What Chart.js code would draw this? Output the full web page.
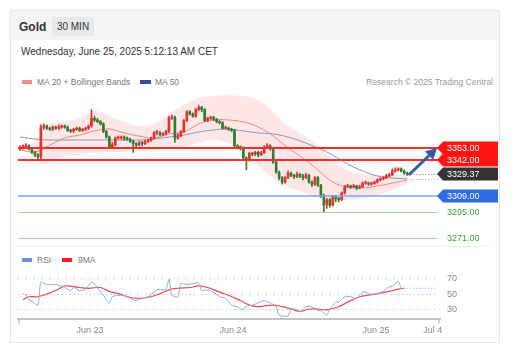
<!DOCTYPE html>
<html><head><meta charset="utf-8">
<script src="https://cdn.jsdelivr.net/npm/chart.js@4.4.1/dist/chart.umd.min.js"></script>
<style>
html,body{margin:0;padding:0;background:#fff;width:514px;height:355px;overflow:hidden;font-family:"Liberation Sans",Arial,sans-serif;}
.a{position:absolute;white-space:nowrap;}
#card{left:10px;top:10px;width:488px;height:331px;border:1px solid #e6e6e6;background:#fff;}
#hdr{left:11px;top:11px;width:488px;height:29px;background:#f4f5f5;}
#title{left:19px;top:20px;font-size:12px;font-weight:bold;line-height:14px;color:#333;}
#badge{left:52px;top:17px;width:42px;height:19px;line-height:19px;text-align:center;font-size:10px;color:#333;background:#e9eaea;}
#date{left:21px;top:46px;font-size:10px;line-height:12px;color:#333;}
.lg{font-size:8.5px;line-height:10px;color:#777;}
.sw{height:4px;width:10px;}
#sep{left:18px;top:246px;width:472px;height:0;border-top:1px dotted #dcdcdc;}
canvas{position:absolute;}
</style></head>
<body>
<div class="a" id="card"></div>
<div class="a" id="hdr"></div>
<div class="a" id="title">Gold</div>
<div class="a" id="badge">30 MIN</div>
<div class="a" id="date">Wednesday, June 25, 2025 5:12:13 AM CET</div>
<div class="a sw" style="left:22px;top:80px;background:#f88a8a;"></div>
<div class="a lg" style="left:37px;top:77px;">MA 20 + Bollinger Bands</div>
<div class="a sw" style="left:140px;top:80px;width:11px;background:#2b5597;"></div>
<div class="a lg" style="left:155px;top:77px;">MA 50</div>
<div class="a lg" style="right:21px;top:77px;color:#999;">Research © 2025 Trading Central</div>
<div class="a" id="sep"></div>
<div class="a sw" style="left:22px;top:258px;background:#6b8fe8;"></div>
<div class="a lg" style="left:37px;top:255px;">RSI</div>
<div class="a sw" style="left:62px;top:258px;background:#ff1a1a;"></div>
<div class="a lg" style="left:78px;top:255px;">9MA</div>
<canvas id="main" width="500" height="154" style="left:10px;top:92px;width:500px;height:154px;"></canvas>
<canvas id="rsi" width="500" height="74" style="left:10px;top:266px;width:500px;height:74px;"></canvas>
<script>
// ---------- DATA ----------
const opens = [3352,3354,3354,3355,3352,3349,3347,3345,3372,3373,3371,3370,3372,3371,3372,3373,3372,3369,3368.5,3370,3371,3369,3370,3371,3373,3380,3378.5,3377,3375,3368,3363,3354,3356,3362,3362,3363,3362,3361,3359,3357,3356,3357.5,3357,3359,3360,3362,3367,3367,3365,3366,3368,3380,3381,3362,3364,3368,3378,3386,3384,3382,3388,3390,3388,3378,3380,3381,3379,3377,3376,3371,3371,3370,3369,3355,3354,3353,3344,3342,3348,3347.5,3349,3347,3348.5,3354,3355,3352,3340,3331,3326,3322,3326,3330,3328,3327,3329,3327.5,3326,3328,3322,3320,3326,3319,3310,3301,3306,3301,3309,3307,3306,3312,3317.5,3318.5,3317.5,3318.5,3316.5,3317.5,3321,3321,3320,3320.5,3322,3324,3325,3326,3327.5,3328.5,3332,3333,3334,3332,3330];
const closes = [3354,3354,3355,3352,3349,3347,3345,3372,3373,3371,3370,3372,3371,3372,3373,3372,3369,3368.5,3370,3371,3369,3370,3371,3373,3380,3378.5,3377,3375,3368,3363,3354,3356,3362,3362,3363,3362,3361,3359,3357,3356,3357.5,3357,3359,3360,3362,3367,3367,3365,3366,3368,3380,3381,3362,3364,3368,3378,3386,3384,3382,3388,3390,3388,3378,3380,3381,3379,3377,3376,3371,3371,3370,3369,3355,3354,3353,3344,3342,3348,3347.5,3349,3347,3348.5,3354,3355,3352,3340,3331,3326,3322,3326,3330,3328,3327,3329,3327.5,3326,3328,3322,3320,3326,3319,3310,3301,3306,3301,3309,3307,3306,3312,3317.5,3318.5,3317.5,3318.5,3316.5,3317.5,3321,3321,3320,3320.5,3322,3324,3325,3326,3327.5,3328.5,3332,3333,3334,3332,3330,3329.37];
const highs = [3355,3356,3357,3356,3353,3350,3348,3374,3375,3374,3372,3373,3373,3374,3374,3374,3373,3370,3371,3372,3372,3371,3372,3374,3388,3382,3380,3378,3376,3369,3364,3358,3363,3364,3364,3364,3363,3362,3360,3358,3359,3359,3360,3361,3363,3368,3369,3368,3367,3369,3382,3383,3382,3366,3369,3379,3387,3387,3385,3389,3392,3391,3389,3381,3382,3382,3380,3378,3377,3373,3372,3371,3370,3356,3355,3354,3345,3349,3349,3350,3350,3350,3355,3357,3356,3353,3341,3332,3327,3327,3332,3331,3329,3331,3330,3329,3330,3329,3323,3327,3327,3320,3311,3307,3307,3310,3310,3308,3313,3319,3320,3319,3320,3319,3319,3322,3323,3322,3322,3323,3325,3326,3327,3329,3330,3334,3335,3335,3335,3333,3331];
const lows = [3351,3352,3353,3351,3348,3345,3343,3343,3370,3370,3369,3369,3370,3370,3371,3371,3368,3367,3367,3369,3368,3368,3369,3370,3372,3377,3376,3374,3367,3362,3353,3353,3355,3361,3361,3360,3360,3358,3349,3354,3355,3355,3356,3358,3359,3361,3365,3364,3364,3365,3367,3379,3358,3361,3363,3367,3377,3383,3381,3381,3387,3386,3377,3377,3379,3378,3376,3375,3370,3370,3369,3368,3354,3352,3351,3343,3333,3341,3346,3346,3345,3346,3348,3353,3351,3339,3330,3324,3320,3321,3325,3327,3325,3326,3326,3324,3325,3321,3318,3319,3318,3308,3294.5,3298,3299,3300,3304,3304,3305,3311,3317,3316,3317,3315,3316,3317,3320,3319,3319,3320,3321,3323,3324,3325,3327,3328,3331,3332,3331,3329,3328];

const bandX   = [4,7,10,15,20,25,30,35,40,45,50,55,60,65,70,75,80,85,90,95,100,105,110,115,120,125,130];
const bbUpper = [3356,3366,3374,3377.6,3380.3,3386.7,3382.1,3376.7,3373,3374.9,3384,3392.2,3398.5,3400.4,3401.3,3400.4,3396.7,3385.8,3373,3364.8,3355.7,3342.1,3333,3329.3,3328.4,3328.4,3328.4];
const bbLower = [3346,3340,3339.3,3345.7,3346.6,3348.4,3349.4,3349.4,3350.3,3351.2,3352.1,3353.9,3357.5,3360.3,3357.5,3351.2,3337.5,3325.7,3317.5,3313,3307.4,3305.6,3305.6,3307.4,3310.2,3314.7,3320.2];

const maX  = [0,5,10,15,20,25,30,35,40,45,50,55,60,65,70,75,80,85,90,95,100,105,110,115,120,125,130];
const ma20 = [3351.2,3349.4,3355.7,3362.1,3364.8,3368.5,3370.3,3366.7,3363.9,3362.1,3365.8,3367.6,3374.9,3378.5,3378.5,3376.7,3372.1,3363.9,3353,3343.9,3333,3322,3317.5,3316.6,3318.4,3321.1,3323.9];
const ma50 = [3363,3361.2,3360.3,3360.3,3360.3,3360.3,3360.3,3360.3,3360.3,3361.2,3363,3364.8,3367.6,3369.4,3370.3,3368.5,3366.7,3365.8,3363,3358.5,3353,3346.6,3338.4,3332.1,3327.5,3325.7,3324.8];

const levels = [3353, 3342, 3329.37, 3309, 3295, 3271];

const arrowFrom = {x:130.5, y:3328.4};
const arrowTo   = {x:140,   y:3353};

const rsiX   = [1,2,3,4,6,7,9,11,13,15,17,18,20,22,24,25,27,28,30,31,34,36,38,39,41,43,45,46,49,50,51,53,54,56,58,60,61,63,65,67,69,71,73,75,76,78,80,82,84,86,87,90,91,93,94,96,98,100,101,103,104,106,107,109,111,113,115,116,118,120,122,124,125,127,128,129];
const rsiVals= [50,48,42,40,35,65,62,62,61,58,54,58,54,56,65,63,52,48,38,46,48,46,42,41,44,46,52,55,56,69,48,46,63,62,63,64,54,55,52,46,44,35,33,29,34,35,38,41,38,33,22,21,30,29,26,33,33,28,28,22,30,39,39,46,46,44,52,52,49,50,53,59,59,66,57,57];
const maRsiX   = [1,3,6,10,13,15,20,23,27,30,33,37,40,44,47,50,53,57,60,63,67,70,74,77,80,82,85,88,91,94,97,100,103,107,110,114,117,120,124,127,129];
const maRsiVals= [42,46,46,51,56,60,58,57,58,53,50,45,44,46,50,55,57,58,60,58,52,48,41,35,33,34,35,33,30,27,30,30,29,33,39,46,48,50,53,56,57];
const rsiTicks = [70, 50, 30];

const xTickPos    = [23.5, 71.5, 119.5, 138.6];
const xTickLabels = ['Jun 23', 'Jun 24', 'Jun 25', 'Jul 4'];

// ---------- STYLE ----------
const FONT = '"Liberation Sans", Arial, sans-serif';
const UP = '#e8302c', DOWN = '#2f7d32';
const levelLine  = ['#ff2a2a','#ff2a2a',null,'#7aa2f2','#9fd49f','#9fd49f'];
const levelLW    = [2,2,0,1.5,1,1];
const levelBox   = ['#ff1414','#ff1414','#333333','#2d6ae3',null,null];
const levelText  = ['#ffffff','#ffffff','#ffffff','#ffffff','#3f9f3f','#3f9f3f'];
const candleColor = ctx => closes[ctx.dataIndex] >= opens[ctx.dataIndex] ? UP : DOWN;
const XMIN = -0.67, XMAX = 141;

const levelPlugin = {
  id:'levels',
  afterDatasetsDraw(chart){
    const y = chart.scales.y, x = chart.scales.x, ctx = chart.ctx, a = chart.chartArea;
    ctx.save();
    levels.forEach((v,i)=>{
      if(!levelLine[i]) return;
      let py = Math.round(y.getPixelForValue(v));
      if(levelLW[i] === 1) py += 0.5;
      ctx.strokeStyle = levelLine[i]; ctx.lineWidth = levelLW[i];
      ctx.beginPath(); ctx.moveTo(a.left, py); ctx.lineTo(a.right-2, py); ctx.stroke();
    });
    const lastX = x.getPixelForValue(closes.length - 1) + 3;
    [[closes[closes.length-1], '#777'], [ma50[ma50.length-1], '#aaa']].forEach(([v,c])=>{
      const py = Math.round(y.getPixelForValue(v)) + 0.5;
      ctx.strokeStyle = c; ctx.lineWidth = 1; ctx.setLineDash([1,2]);
      ctx.beginPath(); ctx.moveTo(lastX, py); ctx.lineTo(a.right-2, py); ctx.stroke();
    });
    ctx.restore();
  },
  afterDraw(chart){
    const y = chart.scales.y, x = chart.scales.x, ctx = chart.ctx, r = chart.chartArea.right;
    ctx.save();
    levels.forEach((v,i)=>{
      const py = Math.round(y.getPixelForValue(v)), h = 6.5;
      if(levelBox[i]){
        ctx.fillStyle = levelBox[i];
        ctx.beginPath();
        ctx.moveTo(r-3, py);
        ctx.lineTo(r+3, py-h);
        ctx.lineTo(r+58, py-h);
        ctx.lineTo(r+58, py+h);
        ctx.lineTo(r+3, py+h);
        ctx.closePath();
        ctx.fill();
      }
      ctx.fillStyle = levelText[i];
      ctx.font = '9px ' + FONT;
      ctx.textBaseline = 'middle'; ctx.textAlign = 'left';
      ctx.fillText(v.toFixed(2), r+7, py+0.5);
    });
    const x1 = x.getPixelForValue(arrowFrom.x), y1 = y.getPixelForValue(arrowFrom.y);
    const x2 = x.getPixelForValue(arrowTo.x), y2 = y.getPixelForValue(arrowTo.y);
    const ang = Math.atan2(y2-y1, x2-x1), L = 11, W = 6;
    const bx = x2 - L*Math.cos(ang), by = y2 - L*Math.sin(ang);
    ctx.strokeStyle = '#2d5ea8'; ctx.fillStyle = '#2d5ea8'; ctx.lineWidth = 3;
    ctx.beginPath(); ctx.moveTo(x1,y1); ctx.lineTo(bx,by); ctx.stroke();
    ctx.beginPath();
    ctx.moveTo(x2,y2);
    ctx.lineTo(bx + W*Math.sin(ang), by - W*Math.cos(ang));
    ctx.lineTo(bx - W*Math.sin(ang), by + W*Math.cos(ang));
    ctx.closePath(); ctx.fill();
    ctx.restore();
  }
};

new Chart(document.getElementById('main'), {
  type:'bar',
  data:{datasets:[
    {type:'line', data: bandX.map((v,i)=>({x:v,y:bbUpper[i]})), borderWidth:0, borderColor:'rgba(0,0,0,0)', pointRadius:0, tension:0.4, fill:'+1', backgroundColor:'rgba(255,95,95,0.15)', order:10},
    {type:'line', data: bandX.map((v,i)=>({x:v,y:bbLower[i]})), borderWidth:0, borderColor:'rgba(0,0,0,0)', pointRadius:0, tension:0.4, fill:false, order:9},
    {type:'line', data: maX.map((v,i)=>({x:v,y:ma20[i]})), borderColor:'rgba(245,120,120,0.9)', borderWidth:1, pointRadius:0, tension:0.4, fill:false, order:8},
    {type:'line', data: maX.map((v,i)=>({x:v,y:ma50[i]})), borderColor:'#8097c4', borderWidth:1, pointRadius:0, tension:0.4, fill:false, order:7},
    {type:'bar', data: highs.map((h,i)=>({x:i,y:[lows[i],h]})), backgroundColor:candleColor, barThickness:1, grouped:false, order:2},
    {type:'bar', data: opens.map((o,i)=>({x:i,y:[o,closes[i]]})), backgroundColor:candleColor, barThickness:2, minBarLength:1, grouped:false, order:1}
  ]},
  options:{
    responsive:false, animation:false,
    layout:{padding:{left:8,right:70,top:0,bottom:0}},
    plugins:{legend:{display:false}, tooltip:{enabled:false}},
    scales:{
      x:{type:'linear', min:XMIN, max:XMAX, display:false, offset:false},
      y:{type:'linear', min:3263.75, max:3404, display:false}
    }
  },
  plugins:[levelPlugin]
});

const rsiDeco = {
  id:'rsiDeco',
  beforeDatasetsDraw(chart){
    const a = chart.chartArea, ctx = chart.ctx, y = chart.scales.y;
    ctx.save();
    ctx.strokeStyle = '#b8b8b8'; ctx.lineWidth = 1; ctx.setLineDash([1,3]);
    rsiTicks.forEach(v=>{
      const py = Math.round(y.getPixelForValue(v)) + 0.5;
      ctx.beginPath(); ctx.moveTo(a.left, py); ctx.lineTo(a.right-2, py); ctx.stroke();
    });
    ctx.restore();
  },
  afterDraw(chart){
    const a = chart.chartArea, ctx = chart.ctx, y = chart.scales.y;
    ctx.save();
    ctx.fillStyle = '#888'; ctx.font = '9px ' + FONT; ctx.textBaseline = 'middle';
    rsiTicks.forEach(v=>{ ctx.fillText(String(v), a.right+7, Math.round(y.getPixelForValue(v))+0.5); });
    ctx.strokeStyle = '#c4c4c4'; ctx.lineWidth = 1.5;
    [a.left+1, a.right-1].forEach(px=>{ctx.beginPath(); ctx.moveTo(px, a.bottom); ctx.lineTo(px, a.bottom+5); ctx.stroke();});
    ctx.restore();
  }
};

const lastR = rsiX.length - 1;
new Chart(document.getElementById('rsi'), {
  type:'line',
  data:{datasets:[
    {data: rsiX.map((v,i)=>({x:v,y:rsiVals[i]})), borderColor:'#8ea8f2', borderWidth:1, pointRadius:0, tension:0.25, fill:false},
    {data: [{x:rsiX[lastR], y:rsiVals[lastR]}, {x:XMAX-1, y:rsiVals[lastR]}], borderColor:'#8ea8f2', borderWidth:1, borderDash:[1,2], pointRadius:0, fill:false},
    {data: maRsiX.map((v,i)=>({x:v,y:maRsiVals[i]})), borderColor:'#f24848', borderWidth:1.2, pointRadius:0, tension:0.4, fill:false}
  ]},
  options:{
    responsive:false, animation:false,
    layout:{padding:{left:8,right:70,top:0,bottom:0}},
    plugins:{legend:{display:false}, tooltip:{enabled:false}},
    scales:{
      x:{type:'linear', min:XMIN, max:XMAX,
         afterBuildTicks:s=>{s.ticks = xTickPos.map(v=>({value:v}));},
         afterFit:s=>{s.height = 21;},
         grid:{display:false, drawTicks:false},
         border:{display:true, color:'#c4c4c4', width:2},
         ticks:{autoSkip:false, maxRotation:0, padding:6, color:'#888', font:{size:9, family:FONT},
                callback:(v,i)=>xTickLabels[i]}},
      y:{type:'linear', min:17, max:86, display:false}
    }
  },
  plugins:[rsiDeco]
});
</script>
</body></html>
